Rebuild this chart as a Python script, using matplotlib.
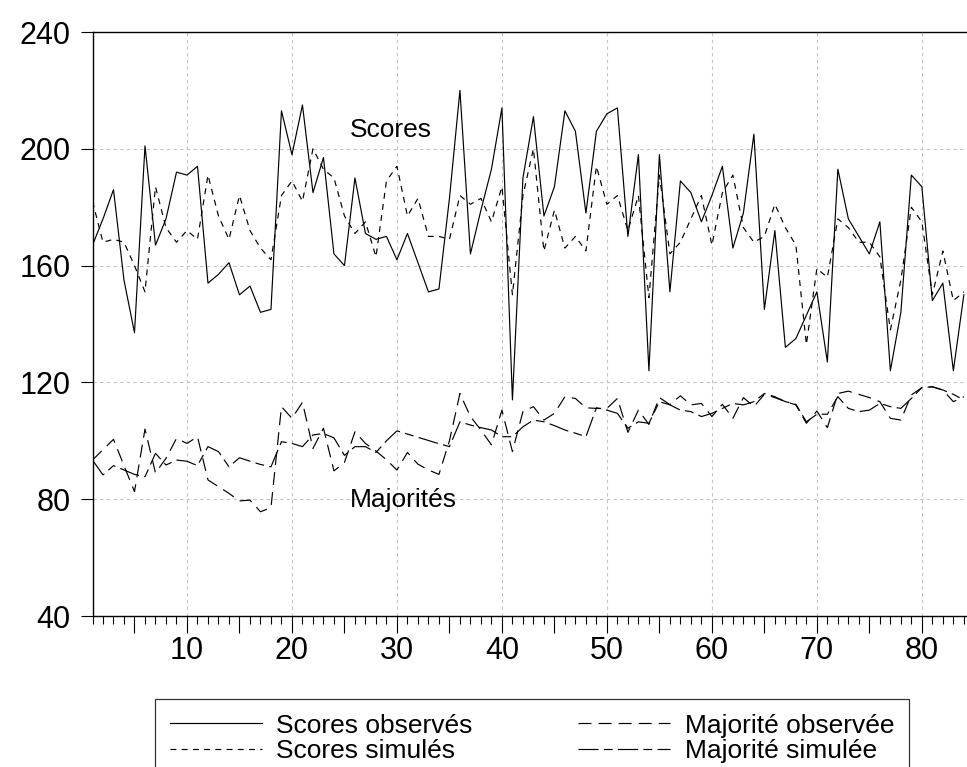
import numpy as np
import matplotlib
matplotlib.use('Agg')
import matplotlib.pyplot as plt
from matplotlib.ticker import MultipleLocator, FuncFormatter

plt.rcParams['font.family'] = ['Liberation Sans', 'DejaVu Sans']

# observations 1..84
obs = np.arange(1, 85)

scores_observes = [167, 176, 186, 155, 137, 201, 167, 176, 192, 191,
                   194, 154, 157, 161, 150, 153, 144, 145, 213, 198,
                   215, 185, 197, 164, 160, 190, 171, 169, 170, 162,
                   171, 161, 151, 152, 183, 220, 164, 179, 193, 214,
                   114, 190, 211, 177, 187, 213, 206, 178, 206, 212,
                   214, 170, 198, 124, 198, 151, 189, 185, 175, 184,
                   194, 166, 178, 205, 145, 172, 132, 135, 143, 151,
                   127, 193, 176, 170, 164, 175, 124, 144, 191, 187,
                   148, 154, 124, 150]

scores_simules = [182, 168, 169, 168, 160, 151, 187, 173, 168, 172,
                  169, 191, 177, 169, 184, 172, 166, 162, 184, 189,
                  182, 200, 193, 190, 177, 171, 175, 163, 189, 194,
                  177, 183, 170, 170, 169, 184, 181, 183, 175, 187,
                  150, 184, 200, 165, 179, 166, 170, 165, 194, 181,
                  184, 172, 184, 149, 191, 164, 168, 176, 184, 167,
                  185, 191, 173, 168, 170, 181, 173, 167, 133, 159,
                  156, 176, 173, 168, 168, 163, 138, 155, 180, 175,
                  150, 165, 148, 151]

majorite_observee = [93.4, 97.0, 100.5, 91.5, 82.6, 104.0, 89.0, 94.0, 100.8, 99.1,
                     101.4, 86.6, 84.3, 82.0, 79.4, 79.7, 75.7, 77.1, 111.7, 107.7,
                     113.2, 97.4, 104.3, 89.7, 92.6, 103.1, 99.1, 96.5, 93.5, 90.0,
                     96.0, 92.0, 90.0, 88.5, 100.0, 116.2, 108.3, 103.7, 98.6, 110.5,
                     96.3, 110.0, 111.7, 107.1, 109.4, 115.1, 114.5, 111.3, 111.1, 111.1,
                     114.5, 102.9, 110.5, 105.6, 114.8, 112.4, 115.4, 112.3, 112.8, 108.3,
                     112.5, 107.7, 114.8, 111.7, 115.9, 114.8, 113.4, 112.3, 106.0, 110.2,
                     104.5, 116.2, 117.0, 115.9, 114.8, 113.4, 107.7, 107.1, 115.7, 118.2,
                     118.5, 117.4, 113.4, 115.1]

majorite_simulee = [93.4, 88.3, 91.5, 90.0, 88.5, 87.7, 95.7, 91.7, 93.4, 93.0,
                    91.5, 98.0, 96.3, 91.1, 94.2, 93.0, 91.9, 91.1, 99.7, 99.1,
                    98.0, 102.0, 102.5, 101.0, 95.0, 98.0, 98.0, 96.0, 100.0, 103.4,
                    102.3, 101.2, 100.1, 99.0, 98.0, 106.5, 105.4, 104.5, 103.7, 101.4,
                    101.4, 104.8, 107.1, 106.5, 105.2, 103.7, 102.6, 101.4, 111.3, 110.5,
                    109.4, 104.3, 106.5, 106.0, 113.4, 112.3, 110.5, 110.0, 108.3, 109.4,
                    111.1, 112.8, 112.3, 113.4, 116.2, 115.1, 113.4, 112.5, 106.5, 109.1,
                    109.1, 115.1, 111.1, 110.0, 110.5, 112.8, 111.7, 111.1, 114.5, 118.2,
                    118.5, 117.4, 115.9, 114.0]

W, H = 967, 767
fig = plt.figure(figsize=(W / 100, H / 100), dpi=100)
ax = fig.add_axes([92.5 / W, 1 - 616 / H, 1 - 92.5 / W, (616 - 32) / H])

lw = 0.85
ax.plot(obs, scores_observes, color='black', lw=lw, label='Scores observés')
ax.plot(obs, scores_simules, color='black', lw=lw, dashes=(5, 4.5), label='Scores simulés')
ax.plot(obs, majorite_observee, color='black', lw=lw, dashes=(11, 6), label='Majorité observée')
ax.plot(obs, majorite_simulee, color='black', lw=lw, dashes=(17, 4.5, 7.5, 4.5), label='Majorité simulée')

ax.set_xlim(1, 84.3)
ax.set_ylim(40, 240)

# cadre : pas de bord droit (coupé dans l'original)
for side in ['left', 'top', 'bottom']:
    ax.spines[side].set_linewidth(1.0)
ax.spines['right'].set_visible(False)

ax.set_yticks(np.arange(40, 241, 40))
ax.xaxis.set_major_locator(MultipleLocator(5))
ax.xaxis.set_minor_locator(MultipleLocator(1))
ax.xaxis.set_major_formatter(FuncFormatter(lambda v, p: f'{int(v)}' if int(v) % 10 == 0 else ''))
ax.tick_params(axis='x', which='major', length=12.5, width=0.8, pad=2, labelsize=22)
ax.tick_params(axis='x', which='minor', length=6, width=0.8)
ax.tick_params(axis='y', which='major', length=9, width=0.8, pad=7, labelsize=22)

# grille pointillée grise
ax.yaxis.grid(True, color='#c4c4c4', lw=0.8, dashes=(3, 3))
for v in range(10, 90, 10):
    ax.axvline(v, color='#c4c4c4', lw=0.8, dashes=(3, 3), zorder=0)
ax.set_axisbelow(True)

ax.text(29.4, 206.4, 'Scores', ha='center', va='center', fontsize=19)
ax.text(30.6, 79.7, 'Majorités', ha='center', va='center', fontsize=19)

leg = fig.legend(loc='upper left', bbox_to_anchor=(155 / W, 0, 754 / W, 1 - 699 / H),
                 mode='expand', ncol=2, fontsize=19, frameon=True, fancybox=False,
                 edgecolor='black', handlelength=3.5, handletextpad=0.55,
                 labelspacing=0.05, borderpad=0.55, borderaxespad=0)
leg.get_frame().set_linewidth(0.9)

fig.savefig('out.png', dpi=100)
